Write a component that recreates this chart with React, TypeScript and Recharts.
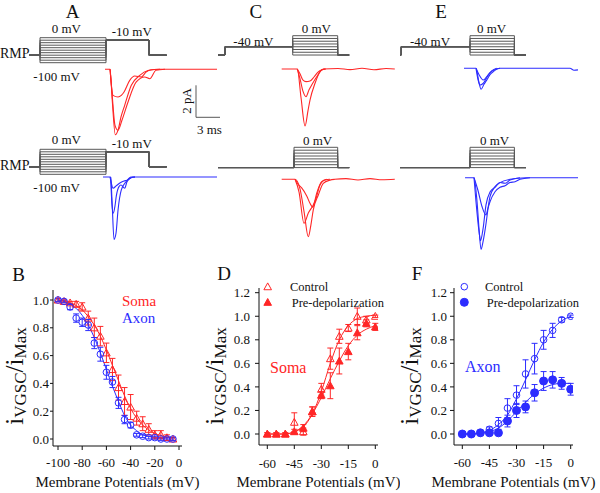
import React from "react";
import {
	LineChart,
	Line,
	XAxis,
	YAxis,
	ReferenceLine,
	ComposedChart,
	Scatter,
	ErrorBar,
} from "recharts";

const FONT = "Liberation Serif, Times New Roman, serif";
const RED = "#ff2626";
const BLUE = "#2c2cff";
const GRAY = "#585858";
const INK = "#111";

// ---------- voltage protocols (mV, ms) ----------
const RMP = -70;
const testStepA = -10;
const holdCE = -40;
const prepulseA = [0, -10, -20, -30, -40, -50, -60, -70, -80, -90, -100];
const testCE = [0, -10, -20, -30, -40, -50, -60, -70];

const timesA = [0, 1.375, 9.625, 15, 17.2];
const timesCTop = [0, 0.875, 9.34, 14.96, 16.4];
const timesCBottom = [0, 9.5, 14.96, 16.4];
const timesETop = [0, 0.15, 8.75, 14.3, 15.75];
const timesEBottom = [0, 8.75, 14.3, 15.75];

// ---------- current traces (ms, pA) ----------
const traceATop: [number, number][][] = [
	[[9.5, 0], [10.13, 0], [10.4, -1.9], [10.79, -4.09], [11.13, -3.8], [11.5, -2.98], [11.96, -2.25], [12.79, -1.0], [13.84, -0.38], [14.88, -0.08], [16.38, 0], [23.5, 0]],
	[[10.13, 0], [10.38, -1.5], [10.75, -3.5], [11.13, -3.81], [11.63, -3.17], [12.38, -2.04], [13.41, -0.79], [14.46, -0.48], [15.09, -0.59], [15.88, -0.06], [17, 0]],
	[[10.13, 0], [10.5, -1.63], [11.13, -1.73], [11.54, -1.63], [11.88, -1.42], [12.59, -0.69], [13.21, -0.42], [14.04, -0.48], [14.63, -0.17], [15.25, -0.03], [16.38, 0]],
];
const traceABottom: [number, number][][] = [
	[[9.25, 0], [10.21, 0], [10.38, -1.5], [10.63, -3.9], [10.88, -3.5], [11.13, -2.06], [11.54, -0.8], [12.16, -0.28], [12.75, 0], [23.5, 0]],
	[[10.21, 0], [10.38, -1.8], [10.54, -2.26], [10.75, -1.8], [10.91, -1.2], [11.25, -0.6], [11.5, -0.5], [11.96, -0.7], [12.25, -0.3], [12.75, -0.05], [13.25, 0]],
	[[10.13, 0], [10.29, -0.38], [10.5, -0.7], [10.91, -0.55], [11.46, -0.34], [11.88, -0.25], [12.25, -0.2], [12.75, -0.05], [13.25, 0]],
];
const traceCTop: [number, number][][] = [
	[[7.96, 0], [9.91, 0], [10.38, -1.8], [10.88, -3.56], [11.25, -2.6], [11.5, -1.94], [12.13, -0.89], [12.75, -0.17], [13.16, 0], [15, 0.03], [16.5, -0.04], [18, 0.05], [19.5, -0.05], [21, 0.03], [22.1, 0]],
	[[9.91, 0], [10.25, -0.6], [10.63, -1.4], [11.0, -1.73], [11.38, -1.3], [11.71, -1.0], [12.34, -0.48], [12.96, -0.06], [13.38, 0]],
	[[9.91, 0], [10.25, -0.3], [10.63, -0.7], [11.0, -0.79], [11.5, -0.75], [12.0, -0.5], [12.5, -0.2], [13.0, -0.05], [13.5, 0]],
];
const traceCBottom: [number, number][][] = [
	[[7.96, 0], [9.63, 0], [10.25, -0.6], [10.75, -2.0], [11.29, -3.59], [11.63, -2.8], [11.91, -1.91], [12.54, -0.98], [13.16, -0.25], [14, -0.05], [14.6, 0], [16, 0.04], [17.5, -0.04], [19, 0.04], [20.5, -0.03], [22.1, 0]],
	[[9.63, 0], [10.13, -0.8], [10.75, -2.75], [11.29, -2.11], [11.91, -1.6], [12.25, -1.2], [12.75, -0.36], [13.38, -0.04], [14, 0]],
	[[9.63, 0], [10, -0.3], [10.46, -0.54], [11.09, -1.04], [11.5, -1.5], [11.84, -1.75], [12.34, -0.86], [12.96, -0.15], [13.59, 0]],
];
const traceETop: [number, number][][] = [
	[[8, 0], [9.5, 0], [9.88, -0.9], [10.13, -1.31], [10.5, -1.0], [10.84, -0.74], [11.25, -0.4], [11.66, -0.21], [12.5, 0], [21.25, 0], [21.75, -0.12], [22.25, -0.1]],
	[[9.5, 0], [9.75, -0.7], [10, -1.04], [10.38, -0.95], [11.04, -0.42], [11.5, -0.15], [12.09, 0]],
	[[9.5, 0], [9.88, -0.4], [10.41, -0.73], [10.88, -0.5], [11.25, -0.27], [11.88, -0.08], [12.5, 0]],
];
const traceEBottom: [number, number][][] = [
	[[8.13, 0], [9.25, 0], [9.63, -1.5], [9.88, -3.2], [10.13, -4.48], [10.38, -4.0], [10.63, -3.28], [11.25, -1.19], [11.88, -0.56], [12.5, -0.31], [13.75, -0.1], [15.75, 0], [22.25, 0]],
	[[9.25, 0], [9.5, -1.5], [9.94, -3.6], [10.06, -3.94], [10.38, -3.2], [10.75, -1.7], [11.25, -0.9], [11.88, -0.6], [12.5, -0.3], [13.13, -0.35], [13.75, -0.15], [15, 0]],
	[[9.25, 0], [9.75, -0.8], [10.25, -1.8], [10.75, -2.33], [11, -1.9], [11.25, -1.5], [11.88, -0.88], [12.5, -0.6], [13.13, -0.5], [13.75, -0.3], [14.38, -0.25], [15, -0.1], [16.25, 0]],
];

// ---------- panel B: steady-state inactivation ----------
const voltsB = [-100, -95, -90, -85, -80, -75, -70, -65, -60, -55, -50, -45, -40, -35, -30, -25, -20, -15, -10, -5];
const somaB = [1.0, 0.99, 0.98, 0.97, 0.95, 0.87, 0.8, 0.74, 0.62, 0.5, 0.37, 0.27, 0.23, 0.15, 0.11, 0.07, 0.03, 0.03, 0.01, 0.0];
const somaErrB = [0.01, 0.01, 0.01, 0.02, 0.03, 0.05, 0.07, 0.07, 0.07, 0.08, 0.09, 0.1, 0.09, 0.05, 0.05, 0.04, 0.03, 0.03, 0.02, 0.01];
const axonB = [1.0, 0.99, 0.95, 0.87, 0.84, 0.82, 0.69, 0.61, 0.48, 0.41, 0.26, 0.14, 0.1, 0.03, 0.02, 0.01, 0.01, 0.0, 0.0, 0.0];
const axonErrB = [0.01, 0.01, 0.02, 0.03, 0.03, 0.04, 0.04, 0.05, 0.05, 0.04, 0.04, 0.03, 0.02, 0.01, 0.01, 0.01, 0.01, 0.01, 0.01, 0.01];
const somaFitB = [1.0, 0.99, 0.98, 0.96, 0.93, 0.88, 0.82, 0.74, 0.64, 0.53, 0.42, 0.31, 0.22, 0.15, 0.1, 0.065, 0.04, 0.025, 0.015, 0.01];
const axonFitB = [1.0, 0.99, 0.97, 0.94, 0.89, 0.82, 0.73, 0.62, 0.5, 0.38, 0.27, 0.17, 0.1, 0.06, 0.03, 0.02, 0.01, 0.005, 0.0, 0.0];

// ---------- panels D and F: activation ----------
const voltsDF = [-60, -55, -50, -45, -40, -35, -30, -25, -20, -15, -10, -5, 0];
const controlD = [0, 0, 0, 0.1, 0.02, 0.19, 0.38, 0.64, 0.83, 0.9, 1.0, 0.97, 1.0];
const controlErrD = [0.01, 0.01, 0.01, 0.08, 0.03, 0.04, 0.05, 0.09, 0.06, 0.03, 0.07, 0.03, 0.01];
const preD = [0, 0, 0, 0.02, 0.05, 0.19, 0.33, 0.41, 0.62, 0.7, 0.86, 0.94, 0.91];
const preErrD = [0.01, 0.01, 0.01, 0.02, 0.03, 0.04, 0.03, 0.11, 0.11, 0.07, 0.06, 0.03, 0.03];
const controlFitD = [0, 0, 0, 0.02, 0.06, 0.17, 0.36, 0.6, 0.8, 0.92, 0.98, 1.0, 1.01];
const preFitD = [0, 0, 0, 0.02, 0.07, 0.17, 0.31, 0.47, 0.62, 0.75, 0.84, 0.89, 0.92];

const controlF = [0, 0, 0.01, 0.04, 0.09, 0.22, 0.33, 0.51, 0.64, 0.8, 0.88, 0.97, 1.0];
const controlErrF = [0.01, 0.01, 0.01, 0.02, 0.05, 0.08, 0.08, 0.12, 0.13, 0.08, 0.06, 0.02, 0.01];
const preF = [0, 0, 0.01, 0.01, 0.01, 0.11, 0.2, 0.23, 0.35, 0.45, 0.46, 0.43, 0.38];
const preErrF = [0.01, 0.01, 0.01, 0.01, 0.01, 0.05, 0.06, 0.05, 0.07, 0.08, 0.07, 0.05, 0.05];
const controlFitF = [0, 0, 0.01, 0.03, 0.08, 0.16, 0.3, 0.46, 0.63, 0.78, 0.89, 0.96, 1.0];
const preFitF = [0, 0, 0.005, 0.02, 0.05, 0.11, 0.19, 0.27, 0.34, 0.39, 0.42, 0.43, 0.43];

// ---------- helpers ----------
type Pt = { t: number; v: number };
const steps = (times: number[], levels: number[]): Pt[] => {
	const out: Pt[] = [];
	levels.forEach((lv, k) => {
		out.push({ t: times[k], v: lv }, { t: times[k + 1], v: lv });
	});
	return out;
};
const toPts = (arr: [number, number][]) => arr.map(([t, i]) => ({ t, i }));
const rows = (xs: number[], ys: number[], es?: number[]) =>
	xs.map((v, k) => ({ v, y: ys[k], e: es ? es[k] : 0 }));

// value range covered by pixels [pLo, pHi] given two reference pixels
const span = (pLo: number, pHi: number, pA: number, vA: number, pB: number, vB: number): [number, number] => {
	const k = (vB - vA) / (pB - pA);
	const a = vA + (pLo - pA) * k;
	const b = vA + (pHi - pA) * k;
	return [Math.min(a, b), Math.max(a, b)];
};

const PX_PER_MS = 8;
const PX_PER_PA = 16;

interface TraceProps {
	left: number;
	top: number;
	height: number;
	tMax: number;
	sweeps: Pt[][];
	mvZero: number;
	pxPerMv: number;
	traces: [number, number][][];
	paZero: number;
	color: string;
	scaleBar?: boolean;
}

const TracePanel: React.FC<TraceProps> = ({ left, top, height, tMax, sweeps, mvZero, pxPerMv, traces, paZero, color, scaleBar }) => {
	const width = tMax * PX_PER_MS;
	const mvDom = span(top + height, top, mvZero, 0, mvZero - pxPerMv * 100, 100);
	const paDom = span(top + height, top, paZero, 0, paZero - PX_PER_PA, 1);
	return (
		<div style={{ position: "absolute", left, top }}>
			<LineChart width={width} height={height} margin={{ top: 0, right: 0, bottom: 0, left: 0 }}>
				<XAxis type="number" dataKey="t" domain={[0, tMax]} allowDataOverflow hide />
				<YAxis yAxisId="mv" type="number" domain={mvDom} allowDataOverflow hide />
				<YAxis yAxisId="pa" type="number" domain={paDom} allowDataOverflow hide />
				{sweeps.map((d, k) => (
					<Line key={"p" + k} yAxisId="mv" data={d} dataKey="v" type="linear" stroke={GRAY} strokeWidth={1} dot={false} isAnimationActive={false} />
				))}
				{traces.map((d, k) => (
					<Line key={"c" + k} yAxisId="pa" data={toPts(d)} dataKey="i" type="monotone" stroke={color} strokeWidth={1.1} dot={false} isAnimationActive={false} />
				))}
				{scaleBar && (
					<ReferenceLine yAxisId="pa" segment={[{ x: 20.875, y: -1 }, { x: 20.875, y: -3 }]} stroke={GRAY} strokeWidth={1} />
				)}
				{scaleBar && (
					<ReferenceLine yAxisId="pa" segment={[{ x: 20.875, y: -3 }, { x: 23.875, y: -3 }]} stroke={GRAY} strokeWidth={1} />
				)}
			</LineChart>
		</div>
	);
};

const triangle = (color: string, filled: boolean) => (p: any) => {
	if (p.cx == null) return <g />;
	const s = 3.8;
	return (
		<polygon
			points={`${p.cx},${p.cy - s} ${p.cx - s},${p.cy + s * 0.8} ${p.cx + s},${p.cy + s * 0.8}`}
			fill={filled ? color : "none"}
			stroke={color}
			strokeWidth={1}
		/>
	);
};
const circle = (color: string, filled: boolean) => (p: any) => {
	if (p.cx == null) return <g />;
	return <circle cx={p.cx} cy={p.cy} r={filled ? 4 : 3.3} fill={filled ? color : "none"} stroke={color} strokeWidth={1} />;
};

interface Series {
	pts: { v: number; y: number; e: number }[];
	fit: { v: number; y: number; e: number }[];
	color: string;
	shape: (p: any) => React.ReactElement;
}

interface IVProps {
	left: number;
	width: number;
	plotLeft: number;
	plotRight: number;
	plotTop: number;
	plotBottom: number;
	xRef: [number, number, number, number];
	yRef: [number, number, number, number];
	xTicks: number[];
	yTicks: number[];
	yTickSize: number;
	yTickMargin: number;
	xTickMargin: number;
	series: Series[];
}

const TOP = 270;
const HEIGHT = 223;

const IVPanel: React.FC<IVProps> = (p) => {
	const xDom = span(p.plotLeft, p.plotRight, p.xRef[0], p.xRef[1], p.xRef[2], p.xRef[3]);
	const yDom = span(p.plotBottom, p.plotTop, p.yRef[0], p.yRef[1], p.yRef[2], p.yRef[3]);
	const tickStyle = { fontSize: 13, fill: INK, fontFamily: FONT };
	return (
		<div style={{ position: "absolute", left: p.left, top: TOP }}>
			<ComposedChart
				width={p.width}
				height={HEIGHT}
				margin={{ top: p.plotTop - TOP, right: p.left + p.width - p.plotRight, bottom: 0, left: 0 }}
			>
				<XAxis
					type="number"
					dataKey="v"
					domain={xDom}
					allowDataOverflow
					ticks={p.xTicks}
					interval={0}
					tick={tickStyle}
					tickSize={4}
					tickMargin={p.xTickMargin}
					axisLine={{ stroke: INK }}
					tickLine={{ stroke: INK }}
					height={TOP + HEIGHT - p.plotBottom}
					label={{ value: "Membrane Potentials (mV)", position: "insideBottom", offset: 6, fontSize: 15, fill: INK, fontFamily: FONT }}
				/>
				<YAxis
					type="number"
					domain={yDom}
					allowDataOverflow
					ticks={p.yTicks}
					interval={0}
					tickFormatter={(v: number) => v.toFixed(1)}
					tick={tickStyle}
					tickSize={p.yTickSize}
					tickMargin={p.yTickMargin}
					axisLine={{ stroke: INK }}
					tickLine={{ stroke: INK }}
					width={p.plotLeft - p.left}
				/>
				{p.series.map((s, k) => (
					<Line key={"f" + k} data={s.fit} dataKey="y" type="monotone" stroke={s.color} strokeWidth={1} dot={false} isAnimationActive={false} />
				))}
				{p.series.map((s, k) => (
					<Scatter key={"s" + k} data={s.pts} dataKey="y" shape={s.shape} isAnimationActive={false}>
						<ErrorBar dataKey="e" direction="y" width={3} stroke={s.color} strokeWidth={1} />
					</Scatter>
				))}
			</ComposedChart>
		</div>
	);
};

const YLabel: React.FC<{ cx: number; cy: number }> = ({ cx, cy }) => (
	<text transform={`rotate(-90 ${cx} ${cy})`} x={cx} y={cy} textAnchor="middle" fontFamily={FONT} fill={INK}>
		<tspan fontSize={25}>i</tspan>
		<tspan fontSize={17} dy={3}>VGSC</tspan>
		<tspan fontSize={25} dy={-3}>/</tspan>
		<tspan fontSize={25}>i</tspan>
		<tspan fontSize={17} dy={3}>Max</tspan>
	</text>
);

const T: React.FC<{ x: number; y: number; s?: number; c?: string; a?: "start" | "middle" | "end"; children: React.ReactNode }> = ({ x, y, s = 13, c = INK, a = "start", children }) => (
	<text x={x} y={y} fontSize={s} fill={c} textAnchor={a} fontFamily={FONT}>
		{children}
	</text>
);

export default function App() {
	const sweepsATop = prepulseA.map((v) => steps(timesA, [RMP, v, testStepA, RMP]));
	const sweepsCTop = testCE.map((v) => steps(timesCTop, [RMP, holdCE, v, RMP]));
	const sweepsCBottom = testCE.map((v) => steps(timesCBottom, [RMP, v, RMP]));
	const sweepsETop = testCE.map((v) => steps(timesETop, [RMP, holdCE, v, RMP]));
	const sweepsEBottom = testCE.map((v) => steps(timesEBottom, [RMP, v, RMP]));

	const yTicks12 = [0, 0.2, 0.4, 0.6, 0.8, 1.0, 1.2];
	const xTicksDF = [-60, -45, -30, -15, 0];

	return (
		<div style={{ position: "absolute", left: 0, top: 0, width: 600, height: 493, background: "#fff", overflow: "hidden" }}>
			<TracePanel left={29} top={20} height={125} tMax={24} sweeps={sweepsATop} mvZero={37.7} pxPerMv={0.25} traces={traceATop} paZero={69.3} color={RED} scaleBar />
			<TracePanel left={29} top={138} height={122} tMax={24} sweeps={sweepsATop} mvZero={149.3} pxPerMv={0.25} traces={traceABottom} paZero={177} color={BLUE} />
			<TracePanel left={218} top={20} height={125} tMax={23} sweeps={sweepsCTop} mvZero={35.7} pxPerMv={0.276} traces={traceCTop} paZero={69} color={RED} />
			<TracePanel left={218} top={138} height={122} tMax={23} sweeps={sweepsCBottom} mvZero={147.3} pxPerMv={0.29} traces={traceCBottom} paZero={179.3} color={RED} />
			<TracePanel left={400} top={20} height={125} tMax={23} sweeps={sweepsETop} mvZero={35.7} pxPerMv={0.276} traces={traceETop} paZero={68.3} color={BLUE} />
			<TracePanel left={400} top={138} height={122} tMax={23} sweeps={sweepsEBottom} mvZero={147.3} pxPerMv={0.29} traces={traceEBottom} paZero={177.7} color={BLUE} />

			<IVPanel
				left={0}
				width={200}
				plotLeft={53}
				plotRight={182}
				plotTop={290}
				plotBottom={446}
				xRef={[58, -100, 179, 0]}
				yRef={[439, 0, 300, 1]}
				xTicks={[-100, -80, -60, -40, -20, 0]}
				yTicks={[0, 0.2, 0.4, 0.6, 0.8, 1.0]}
				yTickSize={3}
				yTickMargin={1}
				xTickMargin={8}
				series={[
					{ pts: rows(voltsB, somaB, somaErrB), fit: rows(voltsB, somaFitB), color: RED, shape: triangle(RED, false) },
					{ pts: rows(voltsB, axonB, axonErrB), fit: rows(voltsB, axonFitB), color: BLUE, shape: circle(BLUE, false) },
				]}
			/>
			<IVPanel
				left={195}
				width={205}
				plotLeft={259}
				plotRight={378}
				plotTop={288}
				plotBottom={445}
				xRef={[267.3, -60, 375.3, 0]}
				yRef={[434, 0, 292.7, 1.2]}
				xTicks={xTicksDF}
				yTicks={yTicks12}
				yTickSize={4}
				yTickMargin={5}
				xTickMargin={10}
				series={[
					{ pts: rows(voltsDF, controlD, controlErrD), fit: rows(voltsDF, controlFitD), color: RED, shape: triangle(RED, false) },
					{ pts: rows(voltsDF, preD, preErrD), fit: rows(voltsDF, preFitD), color: RED, shape: triangle(RED, true) },
				]}
			/>
			<IVPanel
				left={395}
				width={205}
				plotLeft={454}
				plotRight={573}
				plotTop={288}
				plotBottom={445}
				xRef={[462.3, -60, 570.7, 0]}
				yRef={[434, 0, 292.7, 1.2]}
				xTicks={xTicksDF}
				yTicks={yTicks12}
				yTickSize={4}
				yTickMargin={3}
				xTickMargin={9}
				series={[
					{ pts: rows(voltsDF, controlF, controlErrF), fit: rows(voltsDF, controlFitF), color: BLUE, shape: circle(BLUE, false) },
					{ pts: rows(voltsDF, preF, preErrF), fit: rows(voltsDF, preFitF), color: BLUE, shape: circle(BLUE, true) },
				]}
			/>

			<svg width={600} height={493} style={{ position: "absolute", left: 0, top: 0, pointerEvents: "none" }}>
				{/* panel letters */}
				<T x={72.5} y={18} s={19} a="middle">A</T>
				<T x={255.8} y={18} s={19} a="middle">C</T>
				<T x={441} y={18} s={19} a="middle">E</T>
				<T x={18.5} y={281} s={19} a="middle">B</T>
				<T x={224} y={280} s={19} a="middle">D</T>
				<T x={417} y={280} s={19} a="middle">F</T>

				{/* protocol labels */}
				<T x={51.7} y={33.3}>0 mV</T>
				<T x={111.7} y={36}>-10 mV</T>
				<T x={0} y={58.3} s={14}>RMP</T>
				<T x={33.3} y={80.7}>-100 mV</T>
				<T x={51.7} y={144}>0 mV</T>
				<T x={111.7} y={148.3}>-10 mV</T>
				<T x={0} y={170} s={14}>RMP</T>
				<T x={33.3} y={191.7}>-100 mV</T>
				<T x={233.3} y={46}>-40 mV</T>
				<T x={301.7} y={33.3}>0 mV</T>
				<T x={303} y={145}>0 mV</T>
				<T x={410} y={46}>-40 mV</T>
				<T x={477} y={32.7}>0 mV</T>
				<T x={480} y={145}>0 mV</T>

				{/* scale bar labels */}
				<text transform="rotate(-90 191 101)" x={191} y={101} fontSize={13} textAnchor="middle" fontFamily={FONT} fill={INK}>2 pA</text>
				<T x={197} y={134}>3 ms</T>

				{/* y axis titles */}
				<YLabel cx={23} cy={376} />
				<YLabel cx={223} cy={376} />
				<YLabel cx={418} cy={376} />

				{/* legends */}
				<T x={122} y={306} s={15} c={RED}>Soma</T>
				<T x={122} y={323.3} s={15} c={BLUE}>Axon</T>

				{triangle(RED, false)({ cx: 267.7, cy: 286.7 })}
				<T x={290} y={291} s={12.5}>Control</T>
				{triangle(RED, true)({ cx: 267.7, cy: 302.3 })}
				<T x={291.7} y={306.5} s={12.5}>Pre-depolarization</T>
				<T x={270} y={372.7} s={16} c={RED}>Soma</T>

				{circle(BLUE, false)({ cx: 464.3, cy: 286.7 })}
				<T x={485} y={291} s={12.5}>Control</T>
				{circle(BLUE, true)({ cx: 464.3, cy: 302.3 })}
				<T x={486.7} y={306.5} s={12.5}>Pre-depolarization</T>
				<T x={465} y={372} s={16} c={BLUE}>Axon</T>
			</svg>
		</div>
	);
}
